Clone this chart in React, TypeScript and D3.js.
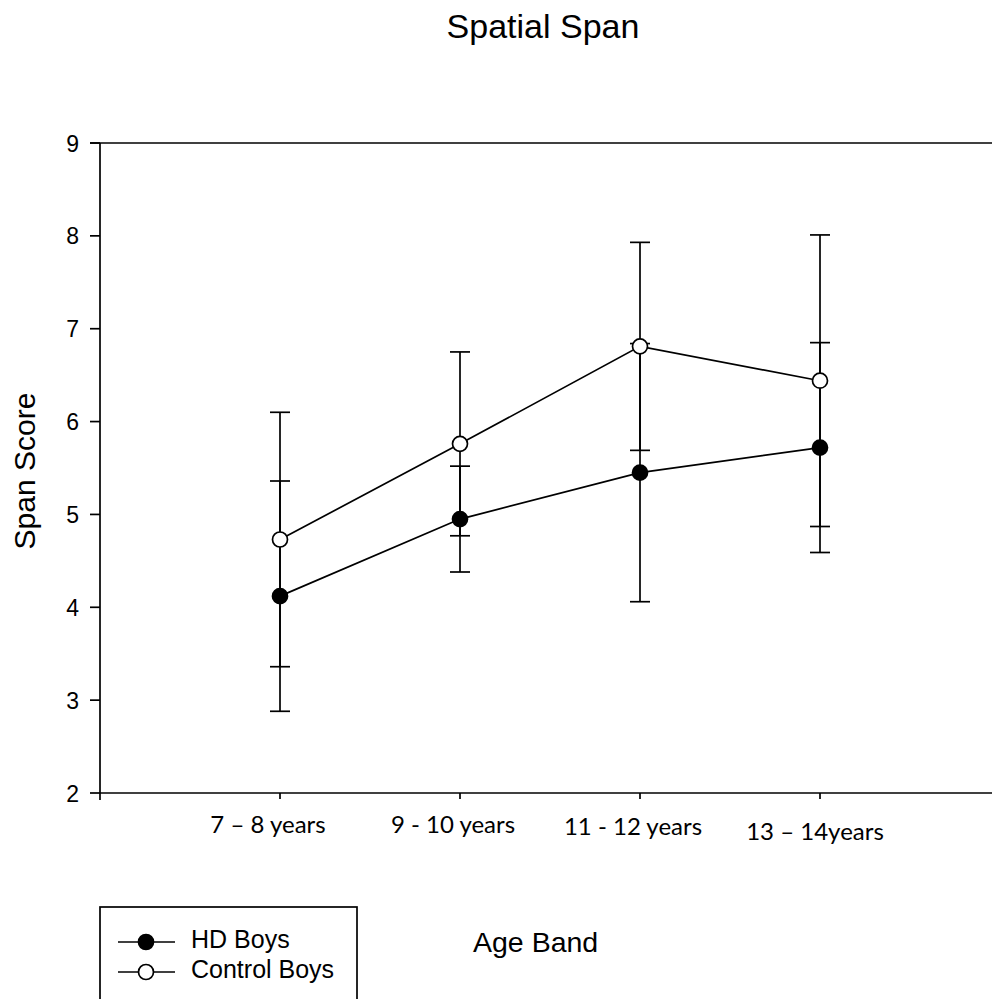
import React from "react";
import * as d3 from "d3";

// Age bands on the x axis
const ageBands = ["7 – 8 years", "9 - 10 years", "11 - 12 years", "13 – 14years"];

// Mean span scores and error-bar half widths per age band
const hdMeans = [4.12, 4.95, 5.45, 5.72];
const hdErrors = [1.24, 0.57, 1.39, 1.13];
const controlMeans = [4.73, 5.76, 6.81, 6.44];
const controlErrors = [1.37, 0.99, 1.12, 1.57];

const yTicks = [2, 3, 4, 5, 6, 7, 8, 9];

const W = 992;
const H = 999;

// Nudges for the hand-placed category labels under the axis
const labelDx = [-12, -7, -7, -5];
const labelBaseline = [833, 833, 835, 840];

const x = d3.scaleLinear().domain([0, 5]).range([100, 1000]);
const y = d3.scaleLinear().domain([2, 9]).range([793, 143]);

type Series = { name: string; means: number[]; errors: number[]; fill: string };

const series: Series[] = [
  { name: "HD Boys", means: hdMeans, errors: hdErrors, fill: "#000" },
  { name: "Control Boys", means: controlMeans, errors: controlErrors, fill: "#fff" },
];

const line = d3
  .line<number>()
  .x((_, i) => x(i + 1))
  .y((d) => y(d));

const sans = "'Liberation Sans', Arial, sans-serif";
const capHalf = 10;
const markerR = 7.5;
const sw = 1.7;

export default function App() {
  return (
    <svg
      width={W}
      height={H}
      style={{ position: "absolute", left: 0, top: 0, background: "#fff" }}
    >
      <rect x={0} y={0} width={W} height={H} fill="#fff" />
      {/* title */}
      <text x={543} y={38} textAnchor="middle" fontFamily={sans} fontSize={34}>
        Spatial Span
      </text>

      {/* axes */}
      <g stroke="#000" strokeWidth={sw} fill="none">
        <line x1={x(0)} y1={y(9)} x2={x(0)} y2={y(2) + 7} />
        <line x1={x(0) - 10} y1={y(9)} x2={x(5)} y2={y(9)} />
        <line x1={x(0)} y1={y(2)} x2={x(5)} y2={y(2)} />
        {yTicks.map((t) => (
          <line key={t} x1={x(0) - 10} x2={x(0)} y1={y(t)} y2={y(t)} />
        ))}
        {ageBands.map((_, i) => (
          <line key={i} x1={x(i + 1)} x2={x(i + 1)} y1={y(2)} y2={y(2) + 6} />
        ))}
      </g>
      {yTicks.map((t) => (
        <text
          key={t}
          x={79}
          y={y(t) + 8.5}
          textAnchor="end"
          fontFamily={sans}
          fontSize={23}
        >
          {t}
        </text>
      ))}
      {ageBands.map((b, i) => (
        <text
          key={b}
          x={x(i + 1) + labelDx[i]}
          y={labelBaseline[i]}
          textAnchor="middle"
          fontFamily="Lato, 'Open Sans', sans-serif"
          fontSize={24}
        >
          {b}
        </text>
      ))}

      {/* axis titles */}
      <text
        transform={`translate(35, 471) rotate(-90)`}
        textAnchor="middle"
        fontFamily={sans}
        fontSize={30}
      >
        Span Score
      </text>
      <text x={473} y={952} fontFamily={sans} fontSize={28.5}>
        Age Band
      </text>

      {/* error bars */}
      <g stroke="#000" strokeWidth={sw}>
        {series.map((s) =>
          s.means.map((m, i) => {
            const cx = x(i + 1);
            const hi = y(m + s.errors[i]);
            const lo = y(m - s.errors[i]);
            return (
              <g key={s.name + i}>
                <line x1={cx} x2={cx} y1={hi} y2={lo} />
                <line x1={cx - capHalf} x2={cx + capHalf} y1={hi} y2={hi} />
                <line x1={cx - capHalf} x2={cx + capHalf} y1={lo} y2={lo} />
              </g>
            );
          })
        )}
      </g>

      {/* series lines */}
      {series.map((s) => (
        <path key={s.name} d={line(s.means) ?? ""} fill="none" stroke="#000" strokeWidth={sw} />
      ))}

      {/* markers */}
      {series.map((s) =>
        s.means.map((m, i) => (
          <circle
            key={s.name + "m" + i}
            cx={x(i + 1)}
            cy={y(m)}
            r={markerR}
            fill={s.fill}
            stroke="#000"
            strokeWidth={sw}
          />
        ))
      )}

      {/* legend */}
      <rect x={100} y={907} width={257} height={110} fill="none" stroke="#000" strokeWidth={sw} />
      {series.map((s, i) => {
        const cy = 942 + i * 30;
        return (
          <g key={s.name}>
            <line x1={118} x2={175} y1={cy} y2={cy} stroke="#000" strokeWidth={sw} />
            <circle cx={146} cy={cy} r={markerR} fill={s.fill} stroke="#000" strokeWidth={sw} />
            <text x={191} y={cy + 5.5} fontFamily={sans} fontSize={25}>
              {s.name}
            </text>
          </g>
        );
      })}
    </svg>
  );
}
